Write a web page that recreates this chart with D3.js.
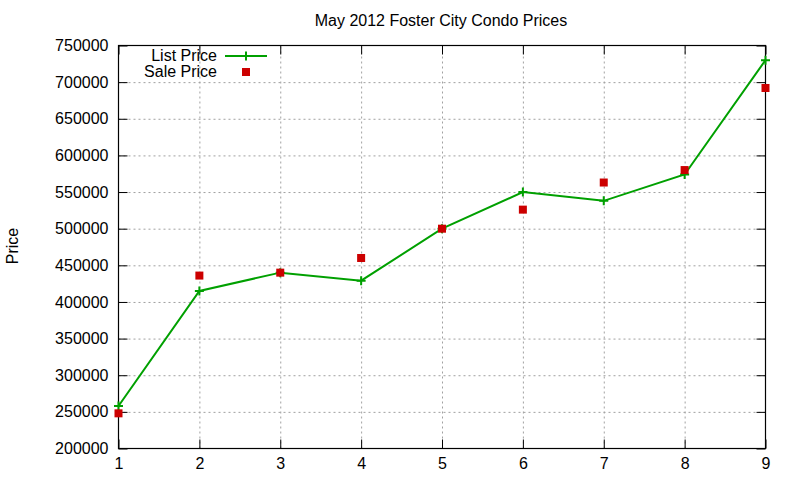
<!DOCTYPE html>
<html>
<head>
<meta charset="utf-8">
<script src="https://cdn.jsdelivr.net/npm/d3@7"></script>
<style>
  body { margin: 0; background: #fff; }
  text { font-family: "Liberation Sans", Arial, sans-serif; fill: #000; }
</style>
</head>
<body>
<div id="wrapper"></div>
<script>
// data
const units = [1, 2, 3, 4, 5, 6, 7, 8, 9];
const listPrice = [258000, 415000, 440000, 429000, 500000, 550000, 538000, 574000, 730000];
const salePrice = [248000, 436000, 440000, 460000, 500000, 526000, 563000, 580000, 692000];
const yTicks = [200000, 250000, 300000, 350000, 400000, 450000, 500000, 550000, 600000, 650000, 700000, 750000];
const xTicks = [1, 2, 3, 4, 5, 6, 7, 8, 9];

function drawChart() {
  // dimensions
  let dimensions = {
    width: 800,
    height: 480,
    margin: { top: 45.5, right: 34.5, bottom: 31.5, left: 118.5 },
  };
  dimensions.boundWidth = dimensions.width - dimensions.margin.left - dimensions.margin.right;
  dimensions.boundHeight = dimensions.height - dimensions.margin.top - dimensions.margin.bottom;

  const svg = d3.select('#wrapper')
    .append('svg')
    .attr('width', dimensions.width)
    .attr('height', dimensions.height);
  const bounds = svg.append('g')
    .attr('transform', `translate(${dimensions.margin.left},${dimensions.margin.top})`);

  // scales
  const xScale = d3.scaleLinear()
    .domain([1, 9])
    .range([0, dimensions.boundWidth]);
  const yScale = d3.scaleLinear()
    .domain([200000, 750000])
    .range([dimensions.boundHeight, 0]);

  // grid
  const gridX = bounds.append('g')
    .attr('transform', `translate(0,${dimensions.boundHeight})`)
    .call(d3.axisBottom(xScale).tickValues(xTicks.slice(1, -1)).tickSize(-dimensions.boundHeight).tickFormat(''));
  const gridY = bounds.append('g')
    .call(d3.axisLeft(yScale).tickValues(yTicks.slice(1, -1)).tickSize(-dimensions.boundWidth).tickFormat(''));
  [gridX, gridY].forEach(g => {
    g.select('.domain').remove();
    g.selectAll('line')
      .attr('stroke', '#a0a0a0')
      .attr('stroke-width', 1)
      .attr('stroke-dasharray', '2,3');
  });

  // axes with inward ticks, mirrored
  const tickLen = 9;
  const xAxis = bounds.append('g')
    .attr('transform', `translate(0,${dimensions.boundHeight})`)
    .call(d3.axisBottom(xScale).tickValues(xTicks).tickSizeInner(-tickLen).tickSizeOuter(0).tickPadding(9).tickFormat(d3.format('d')));
  const xAxisTop = bounds.append('g')
    .call(d3.axisTop(xScale).tickValues(xTicks).tickSizeInner(-tickLen).tickSizeOuter(0).tickFormat(''));
  const yAxis = bounds.append('g')
    .call(d3.axisLeft(yScale).tickValues(yTicks).tickSizeInner(-tickLen).tickSizeOuter(0).tickPadding(10).tickFormat(d3.format('d')));
  const yAxisRight = bounds.append('g')
    .attr('transform', `translate(${dimensions.boundWidth},0)`)
    .call(d3.axisRight(yScale).tickValues(yTicks).tickSizeInner(-tickLen).tickSizeOuter(0).tickFormat(''));
  [xAxis, xAxisTop, yAxis, yAxisRight].forEach(g => {
    g.select('.domain').remove();
    g.selectAll('line').attr('stroke', '#000');
    g.selectAll('text')
      .style('font-family', '"Liberation Sans", Arial, sans-serif')
      .style('font-size', '16px')
      .attr('fill', '#000');
  });

  // border
  bounds.append('rect')
    .attr('width', dimensions.boundWidth)
    .attr('height', dimensions.boundHeight)
    .attr('fill', 'none')
    .attr('stroke', '#000')
    .attr('stroke-width', 1.2);

  // list price line
  const green = '#00a000';
  const red = '#cc0000';
  const lineGenerator = d3.line()
    .x((d, i) => xScale(units[i]))
    .y(d => yScale(d));
  bounds.append('path')
    .datum(listPrice)
    .attr('d', lineGenerator)
    .attr('fill', 'none')
    .attr('stroke', green)
    .attr('stroke-width', 2);

  const plusSize = 4.5;
  const plus = (g, cx, cy) => {
    g.append('path')
      .attr('d', `M${cx - plusSize},${cy}H${cx + plusSize}M${cx},${cy - plusSize}V${cy + plusSize}`)
      .attr('stroke', green)
      .attr('stroke-width', 2);
  };
  listPrice.forEach((d, i) => plus(bounds, xScale(units[i]), yScale(d)));

  // sale price squares
  const sq = 8;
  bounds.selectAll('.sale')
    .data(salePrice)
    .join('rect')
    .attr('class', 'sale')
    .attr('x', (d, i) => xScale(units[i]) - sq / 2)
    .attr('y', d => yScale(d) - sq / 2)
    .attr('width', sq)
    .attr('height', sq)
    .attr('fill', red);

  // title and label
  svg.append('text')
    .attr('x', 441)
    .attr('y', 26)
    .attr('text-anchor', 'middle')
    .style('font-size', '16px')
    .text('May 2012 Foster City Condo Prices');
  svg.append('text')
    .attr('transform', 'translate(18,246) rotate(-90)')
    .attr('text-anchor', 'middle')
    .style('font-size', '16px')
    .text('Price');

  // legend
  const legend = svg.append('g');
  legend.append('text')
    .attr('x', 217).attr('y', 61)
    .attr('text-anchor', 'end')
    .style('font-size', '16px')
    .text('List Price');
  legend.append('line')
    .attr('x1', 225).attr('x2', 267)
    .attr('y1', 56).attr('y2', 56)
    .attr('stroke', green)
    .attr('stroke-width', 2);
  plus(legend, 246, 56);
  legend.append('text')
    .attr('x', 217).attr('y', 77)
    .attr('text-anchor', 'end')
    .style('font-size', '16px')
    .text('Sale Price');
  legend.append('rect')
    .attr('x', 246 - sq / 2).attr('y', 72 - sq / 2)
    .attr('width', sq).attr('height', sq)
    .attr('fill', red);
}
drawChart();
</script>
</body>
</html>
